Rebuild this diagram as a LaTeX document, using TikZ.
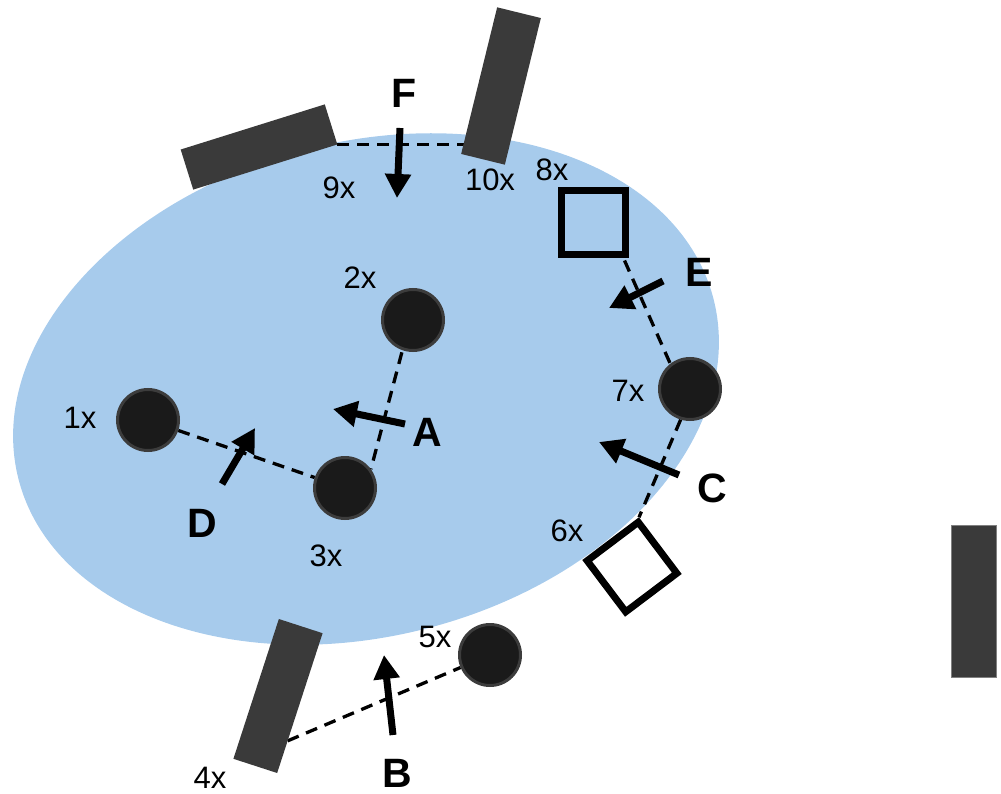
\documentclass[tikz,border=0pt]{standalone}
\usepackage{fontspec}
\setmainfont{Liberation Sans}
\usetikzlibrary{arrows.meta,calc}
\definecolor{pool}{HTML}{A7CBEC}
\definecolor{barc}{HTML}{3A3A3A}
\definecolor{ballc}{HTML}{1A1A1A}
\definecolor{ballb}{HTML}{3C3C3C}
\pgfdeclarelayer{poollayer}
\pgfdeclarelayer{linklayer}
\pgfsetlayers{poollayer,linklayer,main}
\begin{document}
\begin{tikzpicture}[x=1pt,y=-1pt,
  bar/.style={fill=barc,draw=none,inner sep=0pt,outer sep=0pt},
  ball/.style={circle,fill=ballc,draw=ballb,line width=3pt,minimum size=61pt,inner sep=0pt},
  sqbox/.style={draw=black,line width=7pt,minimum size=64pt,inner sep=0pt},
  link/.style={draw=black,line width=3.3pt,dash pattern=on 12pt off 8pt},
  force/.style={draw=black,line width=7pt,-{Triangle[length=24pt,width=25pt]}},
  num/.style={font=\fontsize{31}{31}\selectfont,inner sep=0pt},
  letter/.style={font=\fontsize{41}{41}\selectfont\bfseries,inner sep=0pt}]
\useasboundingbox (0,0) rectangle (1001,794);
% pool
\begin{pgfonlayer}{poollayer}
\fill[pool,rotate around={14.7:(366,389)}] (366,389) ellipse [x radius=359, y radius=247];
\end{pgfonlayer}
% bars
\node[bar,minimum width=151pt,minimum height=42pt,rotate=17.4] (b9) at (259,147) {};
\node[bar,minimum width=45pt,minimum height=151pt,rotate=-13.8] (b10) at (501,86) {};
\node[bar,minimum width=46pt,minimum height=147pt,rotate=-18] (b4) at (278,696) {};
\node[bar,draw=gray,line width=0.8pt,minimum width=45pt,minimum height=152pt] (br) at (973.5,601) {};
% balls
\node[ball] (c1) at (148,420) {};
\node[ball] (c2) at (413,320) {};
\node[ball] (c3) at (345,488) {};
\node[ball] (c5) at (490,655) {};
\node[ball] (c7) at (690,389) {};
% squares
\node[sqbox] (s8) at (593,223) {};
\node[sqbox,fill=white,rotate=37] (s6) at (632,567) {};
% dashed links (under the bodies)
\begin{pgfonlayer}{linklayer}
\draw[link] (b9.south east) -- (b9.south east -| b10.west);
\draw[link] ($(b4.east)!0.54!(b4.south east)$) -- (c5);
\draw[link] ($(c2.center)+(-6,13)$) -- (c3.36);
\draw[link] (c1) -- (c3);
\draw[link] ($(s8.south east)+(-4,2)$) -- (c7.128);
\draw[link] (c7.253) -- (s6.north east);
\end{pgfonlayer}
% forces
\coordinate (Ft) at (400,128); \coordinate (Fh) at (397,198);
\coordinate (At) at (405,424); \coordinate (Ah) at (333,409);
\coordinate (Dt) at (222,484); \coordinate (Dh) at (255,428);
\coordinate (Bt) at (393,735); \coordinate (Bh) at (384,655);
\coordinate (Et) at (663,281); \coordinate (Eh) at (609,308);
\coordinate (Ct) at (679,475); \coordinate (Ch) at (599,442);
\draw[force] (Ft) -- (Fh);
\draw[force] (At) -- (Ah);
\draw[force] (Dt) -- (Dh);
\draw[force] (Bt) -- (Bh);
\draw[force] (Et) -- (Eh);
\draw[force] (Ct) -- (Ch);
% labels
\node[letter] (lF) at (404,93) {F};
\node[letter] (lA) at (427,432) {A};
\node[letter] (lD) at (202,523) {D};
\node[letter] (lB) at (397,773) {B};
\node[letter] (lE) at (699,272) {E};
\node[letter] (lC) at (712,488) {C};
\node[num] (n1) at (80,418) {1x};
\node[num] (n2) at (360,278) {2x};
\node[num] (n3) at (326,556) {3x};
\node[num] (n4) at (210,778) {4x};
\node[num] (n5) at (435,637) {5x};
\node[num] (n6) at (567,531) {6x};
\node[num] (n7) at (628,391) {7x};
\node[num] (n8) at (552,170) {8x};
\node[num] (n9) at (339,188) {9x};
\node[num] (n10) at (490,180) {10x};
\end{tikzpicture}
\end{document}
